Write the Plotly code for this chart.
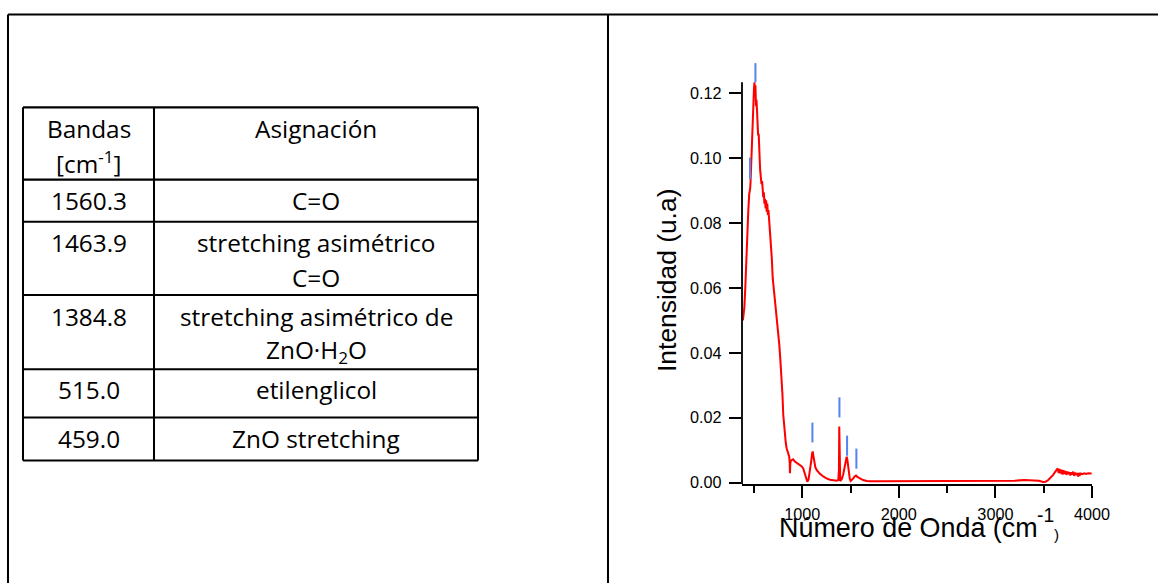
import plotly.graph_objects as go

# ---- Table contents -------------------------------------------------------
band_header = ["Bandas", "[cm<sup>-1</sup>]"]
assign_header = "Asignación"
bands = ["1560.3", "1463.9", "1384.8", "515.0", "459.0"]
assignments = [
    ["C=O"],
    ["stretching asimétrico", "C=O"],
    ["stretching asimétrico de", "ZnO·H<sub>2</sub>O"],
    ["etilenglicol"],
    ["ZnO stretching"],
]

# ---- IR spectrum (wavenumber in cm-1, intensity in u.a.) ------------------
wavenumber = [
    385, 400, 410, 417, 428, 441, 451, 460, 465, 469, 478, 486, 493, 500, 505,
    510, 515, 521, 526, 531, 535, 538, 543, 549, 552, 555, 560, 565, 572, 578,
    584, 590, 596, 602, 608, 614, 620, 626, 632, 638, 644, 650, 658, 667, 676,
    685, 694, 707, 720, 738, 750, 762, 775, 787, 795, 803, 812, 821, 830, 838,
    846, 855, 865, 870, 873, 876, 882, 890, 905, 924, 950, 976, 995, 1010, 1025,
    1038, 1052, 1065, 1080, 1092, 1102, 1108, 1114, 1124, 1135, 1149, 1180,
    1217, 1250, 1287, 1320, 1356, 1373, 1380, 1383, 1386, 1390, 1393, 1410,
    1424, 1440, 1452, 1460, 1467, 1480, 1492, 1501, 1515, 1528, 1545, 1556,
    1570, 1597, 1630, 1667, 1700, 1800, 2000, 2200, 2400, 2600, 2800, 2900,
    3000, 3100, 3200, 3300, 3400, 3450, 3495, 3520, 3547, 3575, 3598, 3615,
    3633, 3645, 3655, 3665, 3675, 3685, 3695, 3705, 3715, 3725, 3735, 3745,
    3755, 3765, 3775, 3785, 3795, 3805, 3815, 3825, 3835, 3845, 3855, 3865,
    3875, 3885, 3900, 3920, 3940, 3960, 3980, 3996,
]
intensity = [
    0.0500, 0.0539, 0.0600, 0.0662, 0.0745, 0.0837, 0.0890, 0.0905, 0.0930,
    0.0967, 0.1040, 0.1129, 0.1183, 0.1215, 0.1234, 0.1200, 0.1225, 0.1160,
    0.1180, 0.1150, 0.1100, 0.1120, 0.1070, 0.1075, 0.1030, 0.1007, 0.0990,
    0.0960, 0.0945, 0.0920, 0.0930, 0.0905, 0.0880, 0.0895, 0.0860, 0.0875,
    0.0845, 0.0870, 0.0835, 0.0860, 0.0825, 0.0840, 0.0806, 0.0780, 0.0745,
    0.0690, 0.0631, 0.0595, 0.0559, 0.0508, 0.0470, 0.0426, 0.0370, 0.0322,
    0.0270, 0.0210, 0.0170, 0.0137, 0.0120, 0.0106, 0.0098, 0.0086, 0.0080,
    0.0060, 0.0029, 0.0060, 0.0068, 0.0070, 0.0072, 0.0065, 0.0060, 0.0055,
    0.0050, 0.0044, 0.0030, 0.0013, 0.0003, 0.0010, 0.0034, 0.0065, 0.0090,
    0.0096, 0.0085, 0.0065, 0.0048, 0.0039, 0.0028, 0.0019, 0.0013, 0.0009,
    0.0007, 0.0006, 0.0008, 0.0040, 0.0173, 0.0040, 0.0008, 0.0005, 0.0012,
    0.0025, 0.0050, 0.0072, 0.0080, 0.0070, 0.0034, 0.0012, 0.0005, 0.0008,
    0.0013, 0.0020, 0.0022, 0.0018, 0.0013, 0.0008, 0.0005, 0.0004, 0.0004,
    0.0004, 0.0004, 0.0004, 0.0004, 0.0004, 0.0005, 0.0004, 0.0005, 0.0006,
    0.0008, 0.0008, 0.0006, 0.0002, 0.0003, 0.0008, 0.0016, 0.0024, 0.0032,
    0.0039, 0.0044, 0.0030, 0.0042, 0.0028, 0.0040, 0.0025, 0.0038, 0.0027,
    0.0036, 0.0024, 0.0034, 0.0026, 0.0033, 0.0022, 0.0032, 0.0025, 0.0034,
    0.0021, 0.0031, 0.0024, 0.0030, 0.0019, 0.0030, 0.0024, 0.0028, 0.0026,
    0.0029, 0.0027, 0.0029, 0.0028, 0.0029,
]

# Band markers drawn above the peaks (position, lower end, upper end)
marker_pos = [459.0, 515.0, 1105.0, 1384.8, 1463.9, 1560.3]
marker_low = [0.0935, 0.1234, 0.0124, 0.0201, 0.0083, 0.0043]
marker_high = [0.1002, 0.1293, 0.0185, 0.0263, 0.0145, 0.0105]

x_ticks = [1000, 2000, 3000, 4000]
x_minor = [500, 1500, 2500, 3500]
y_ticks = [0.00, 0.02, 0.04, 0.06, 0.08, 0.10, 0.12]

# ---- page geometry: layout designed on a 1158 x 583 grid ----------------
BW, BH = 1158, 583
S = 1.0155                     # overall size factor of the page
W, H = round(BW * S), round(BH * S)


def px(x):
    return x / BW


def py(y):
    return 1 - y / BH


def sz(v):
    return v * S


fig = go.Figure()

fig.add_trace(go.Scatter(
    x=wavenumber, y=intensity, mode="lines",
    line=dict(color="#ff0000", width=sz(2)), hoverinfo="skip",
))

mx, my = [], []
for p, lo, hi in zip(marker_pos, marker_low, marker_high):
    mx += [p, p, None]
    my += [lo, hi, None]
fig.add_trace(go.Scatter(
    x=mx, y=my, mode="lines",
    line=dict(color="#5585f0", width=sz(2)), hoverinfo="skip",
))

shapes = []
black = dict(color="black", width=sz(2))

# outer frame and column divider
shapes.append(dict(type="line", xref="paper", yref="paper",
                   x0=px(8), x1=px(8), y0=py(14.5), y1=py(583), line=black))
shapes.append(dict(type="line", xref="paper", yref="paper",
                   x0=px(8), x1=px(1158), y0=py(14.5), y1=py(14.5), line=black))
shapes.append(dict(type="line", xref="paper", yref="paper",
                   x0=px(608), x1=px(608), y0=py(14.5), y1=py(583), line=black))

# table grid
t_left, t_mid, t_right = 23, 154, 478
row_lines = [107, 179, 221, 294, 368, 416, 459]
for r in row_lines:
    shapes.append(dict(type="line", xref="paper", yref="paper",
                       x0=px(t_left), x1=px(t_right), y0=py(r), y1=py(r),
                       line=black))
for c in (t_left, t_mid, t_right):
    shapes.append(dict(type="line", xref="paper", yref="paper",
                       x0=px(c), x1=px(c), y0=py(row_lines[0]),
                       y1=py(row_lines[-1]), line=black))

# left axis line (stops at the top of the data region)
shapes.append(dict(type="line", xref="paper", yref="y",
                   x0=px(742), x1=px(742), y0=-0.0004, y1=0.1234,
                   line=dict(color="black", width=sz(1.8))))

annotations = []
tfont = dict(family="Open Sans", size=sz(24), color="black")
c1 = (t_left + t_mid) / 2
c2 = (t_mid + t_right) / 2


def cell(text, x, y):
    annotations.append(dict(text=text, x=px(x), y=py(y), xref="paper",
                            yref="paper", showarrow=False, font=tfont,
                            xanchor="center", yanchor="middle"))


cell(band_header[0], c1, 128)
cell(band_header[1], c1, 162)
cell(assign_header, c2, 128)

band_y = [200, 242, 315, 388, 437]
line_gap = 35
for b, lines, yc in zip(bands, assignments, band_y):
    cell(b, c1, yc)
    for i, ln in enumerate(lines):
        cell(ln, c2, yc + i * line_gap)

# axis titles
sans = "Liberation Sans, Arial"
annotations.append(dict(text="Intensidad (u.a)", x=px(667), y=py(280),
                        xref="paper", yref="paper", showarrow=False,
                        textangle=-90,
                        font=dict(family=sans, size=sz(26), color="black"),
                        xanchor="center", yanchor="middle"))
annotations.append(dict(text="Número de Onda (cm", x=px(777), y=py(526),
                        xref="paper", yref="paper", showarrow=False,
                        font=dict(family=sans, size=sz(26.5), color="black"),
                        xanchor="left", yanchor="middle"))
annotations.append(dict(text="-1", x=px(1045), y=py(514),
                        xref="paper", yref="paper", showarrow=False,
                        font=dict(family=sans, size=sz(19), color="black"),
                        xanchor="center", yanchor="middle"))
annotations.append(dict(text=")", x=px(1056), y=py(533),
                        xref="paper", yref="paper", showarrow=False,
                        font=dict(family=sans, size=sz(15), color="black"),
                        xanchor="center", yanchor="middle"))

tickfont = dict(family=sans, size=sz(16), color="black")

fig.update_layout(
    width=W, height=H,
    margin=dict(l=0, r=0, t=0, b=0),
    paper_bgcolor="white", plot_bgcolor="white",
    showlegend=False,
    shapes=shapes, annotations=annotations,
    xaxis=dict(
        domain=[px(742), px(1092)], range=[376, 4000],
        showgrid=False, zeroline=False,
        showline=True, linecolor="black", linewidth=sz(1.8),
        ticks="outside", ticklen=sz(12), tickwidth=sz(1.6), tickcolor="black",
        tickvals=x_ticks, tickfont=tickfont, ticklabelstandoff=2,
        minor=dict(ticks="outside", ticklen=sz(7), tickwidth=sz(1.6),
                   tickcolor="black", tickvals=x_minor),
    ),
    yaxis=dict(
        domain=[py(482.3), py(60.7)], range=[-0.0004, 0.13],
        showgrid=False, zeroline=False, showline=False,
        ticks="outside", ticklen=sz(12), tickwidth=sz(1.6), tickcolor="black",
        tickvals=y_ticks, tickformat=".2f", tickfont=tickfont,
        ticklabelstandoff=4,
    ),
)

fig.write_html(
    "out.html",
    post_script="document.body.style.margin='0';"
                "document.body.style.overflow='hidden';",
)
